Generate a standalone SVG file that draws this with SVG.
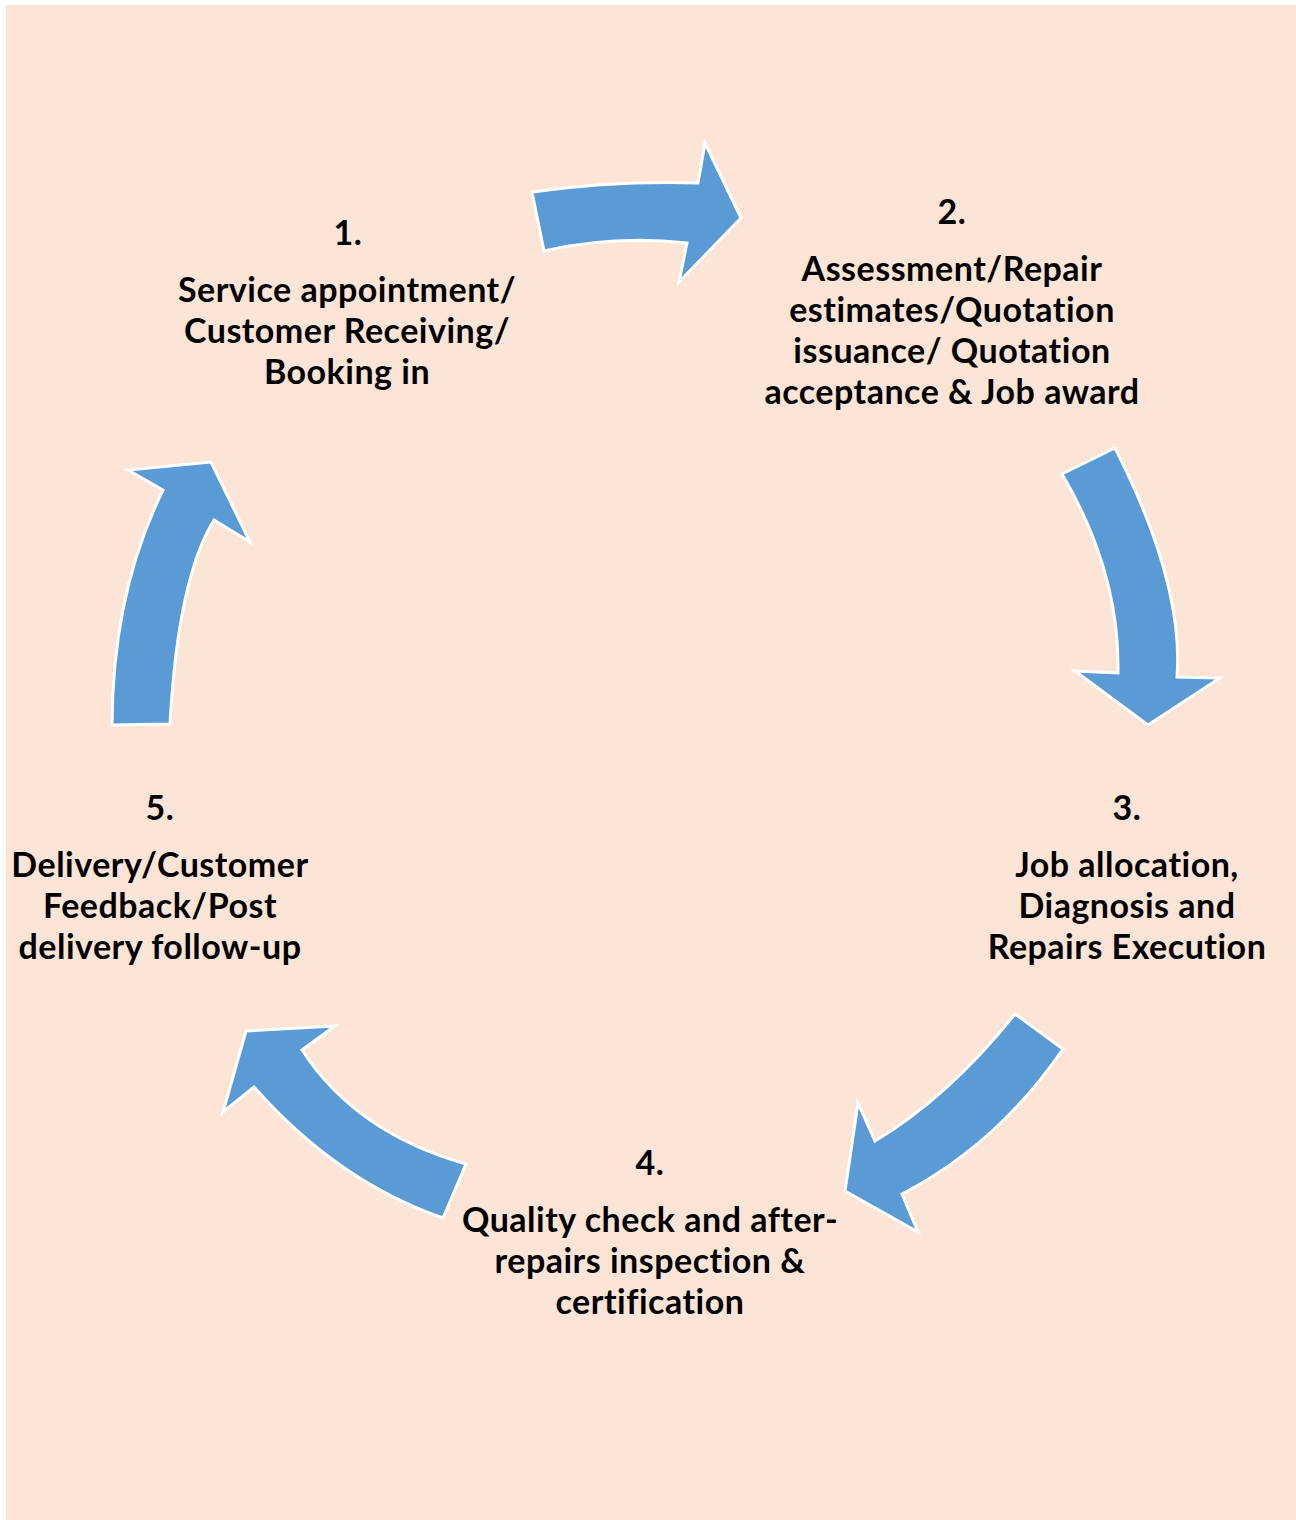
<svg xmlns="http://www.w3.org/2000/svg" width="1296" height="1520" viewBox="0 0 1296 1520">
<style>
.arrow{fill:#5B9BD5;stroke:#FFFFFF;stroke-width:3;stroke-linejoin:miter}
.lbl{font-family:Lato,"Liberation Sans",sans-serif;font-weight:bold;font-size:34px;letter-spacing:0.5px;fill:#000;text-anchor:middle}
</style>
<rect x="0" y="0" width="1296" height="1520" fill="#FFFFFF"/>
<rect x="6" y="5" width="1290" height="1515" fill="#FCE4D6"/>
<g id="connectors">
<path id="arrow-1-2" class="arrow" d="M532,192 Q615,180.5 698,183 L705,143 L741,218 L679,282 L687,243 Q614.5,235 544,251 Z"/>
<path id="arrow-2-3" class="arrow" d="M1115,448 Q1184,583.5 1177,677 L1220,678 L1148,725 L1075,671 L1118,673 Q1120,572.5 1062,474 Z"/>
<path id="arrow-3-4" class="arrow" d="M1063,1049 Q997.5,1144.5 902,1194 L918,1232 L845,1191 L858,1103 L875,1141 Q949,1096.5 1015,1014 Z"/>
<path id="arrow-4-5" class="arrow" d="M443,1218 Q337.5,1181.5 254,1087 L223,1112 L246,1031 L335,1026 L302,1050 Q356,1133 466,1164 Z"/>
<path id="arrow-5-1" class="arrow" d="M170,724 Q178,578 214,520 L250,542 L211,462 L128,470 L163,490 Q112.5,592.5 112,725 Z"/>
</g>
<g id="node-1">
<text class="lbl" x="348" y="245">1.</text>
<text class="lbl" x="347" y="302">Service appointment/</text>
<text class="lbl" x="347" y="343">Customer Receiving/</text>
<text class="lbl" x="347" y="384">Booking in</text>
</g>
<g id="node-2">
<text class="lbl" x="952" y="224">2.</text>
<text class="lbl" x="952" y="281">Assessment/Repair</text>
<text class="lbl" x="952" y="322">estimates/Quotation</text>
<text class="lbl" x="952" y="363">issuance/ Quotation</text>
<text class="lbl" x="952" y="404">acceptance &amp; Job award</text>
</g>
<g id="node-3">
<text class="lbl" x="1127" y="820">3.</text>
<text class="lbl" x="1127" y="877">Job allocation,</text>
<text class="lbl" x="1127" y="918">Diagnosis and</text>
<text class="lbl" x="1127" y="959">Repairs Execution</text>
</g>
<g id="node-4">
<text class="lbl" x="650" y="1175">4.</text>
<text class="lbl" x="650" y="1232">Quality check and after-</text>
<text class="lbl" x="650" y="1273">repairs inspection &amp;</text>
<text class="lbl" x="650" y="1314">certification</text>
</g>
<g id="node-5">
<text class="lbl" x="160" y="820">5.</text>
<text class="lbl" x="160" y="877">Delivery/Customer</text>
<text class="lbl" x="160" y="918">Feedback/Post</text>
<text class="lbl" x="160" y="959">delivery follow-up</text>
</g>
</svg>
